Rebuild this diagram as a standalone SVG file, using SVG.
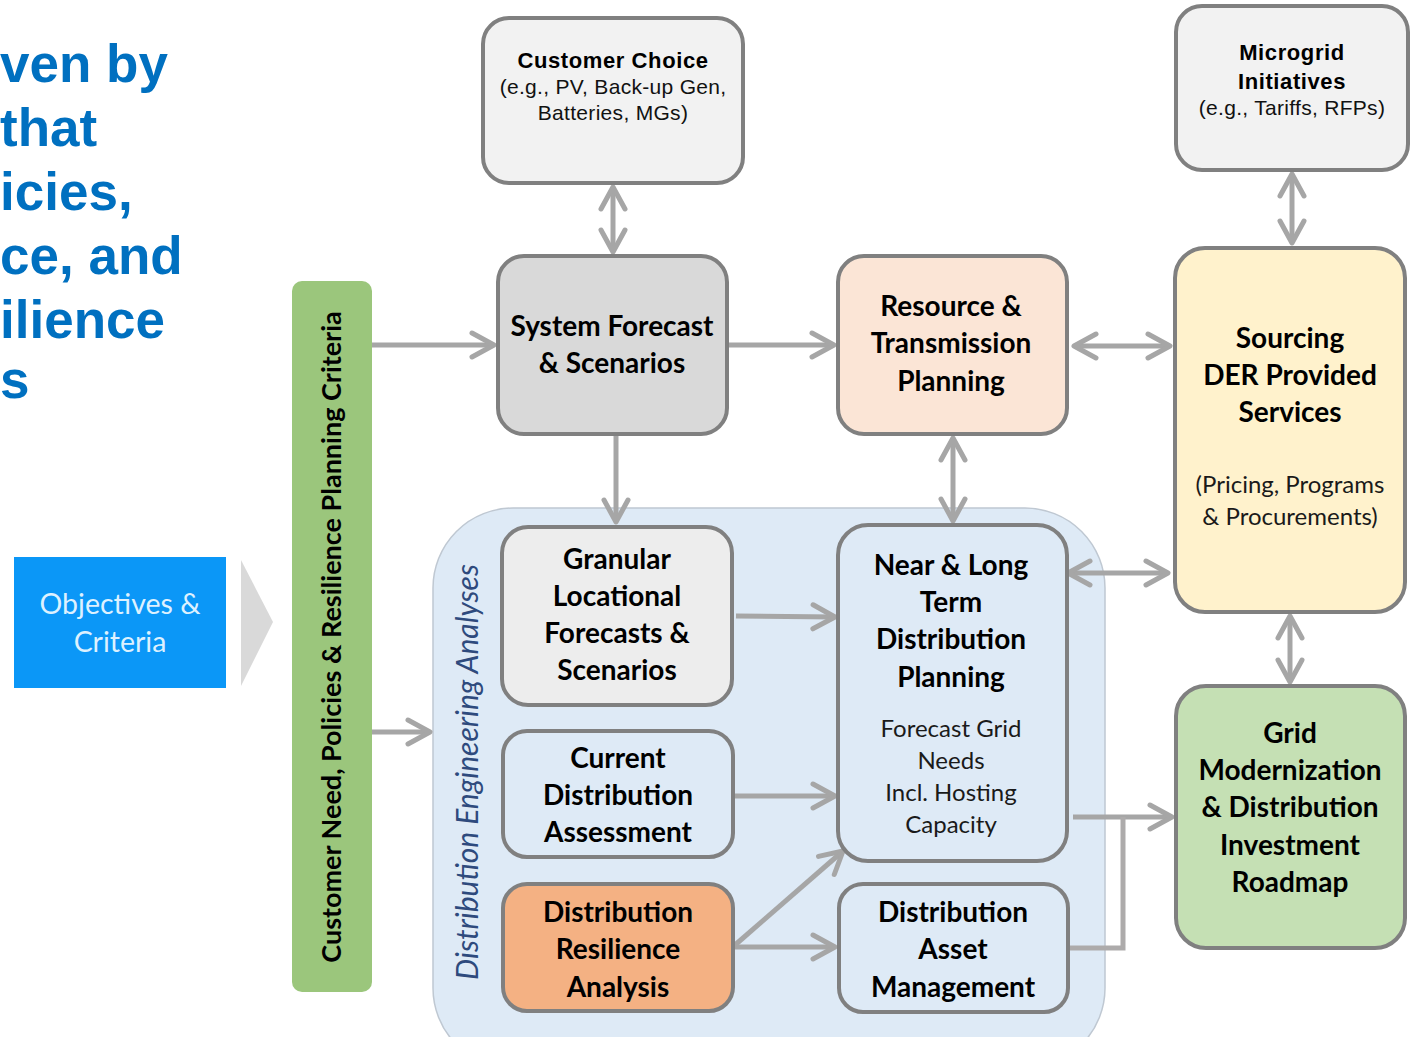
<svg xmlns="http://www.w3.org/2000/svg" width="1412" height="1037" viewBox="0 0 1412 1037">
  <style>
    .head { font-family: "Liberation Sans", Arial, sans-serif; font-weight: bold; font-size: 53px; fill: #0070C0; }
    .box { stroke: #808080; stroke-width: 4; }
    .cb { font-family: Lato, "Open Sans", sans-serif; font-weight: bold; font-size: 28px; fill: #000; text-anchor: middle; }
    .cn { font-family: Lato, "Open Sans", sans-serif; font-size: 24px; fill: #1a1a1a; text-anchor: middle; }
    .ab { font-family: "Liberation Sans", Arial, sans-serif; font-weight: bold; font-size: 22px; letter-spacing: 0.6px; fill: #000; text-anchor: middle; }
    .an { font-family: "Liberation Sans", Arial, sans-serif; font-size: 21px; letter-spacing: 0.3px; fill: #111; text-anchor: middle; }
    .bar-label { font-family: Lato, "Open Sans", sans-serif; font-weight: bold; font-size: 27px; fill: #000; text-anchor: middle; }
    .conn { stroke: #A6A6A6; stroke-width: 5; fill: none; }
  </style>
  <defs>
    <marker id="chev" markerUnits="userSpaceOnUse" viewBox="-30 -20 40 40" markerWidth="40" markerHeight="40" refX="0" refY="0" orient="auto-start-reverse" overflow="visible">
      <path d="M-22,-12 L0,0 L-22,12" fill="none" stroke="#A6A6A6" stroke-width="5" stroke-linecap="round" stroke-linejoin="round"/>
    </marker>
  </defs>

  <rect width="1412" height="1037" fill="#FFFFFF"/>

  <!-- heading, running off the left edge -->
  <g id="heading">
    <text class="head" x="0" y="82">ven by</text>
    <text class="head" x="0" y="146">that</text>
    <text class="head" x="0" y="210">icies,</text>
    <text class="head" x="0" y="274">ce, and</text>
    <text class="head" x="0" y="338">ilience</text>
    <text class="head" x="0" y="398">s</text>
  </g>

  <!-- objectives tab with chevron -->
  <g id="objectives">
    <rect x="14" y="557" width="212" height="131" fill="#0B97F7"/>
    <text x="120" y="614" font-family="Lato, 'Open Sans', sans-serif" font-size="28.5" fill="#DDF1FF" text-anchor="middle">Objectives &amp;</text>
    <text x="120" y="652" font-family="Lato, 'Open Sans', sans-serif" font-size="28.5" fill="#DDF1FF" text-anchor="middle">Criteria</text>
    <polygon points="241,560 273,622 241,686" fill="#D9D9D9"/>
  </g>

  <!-- criteria bar -->
  <g id="criteria">
    <rect x="292" y="281" width="80" height="711" rx="10" fill="#9BC67C"/>
    <text transform="translate(341,637) rotate(-90)" class="bar-label">Customer Need, Policies &amp; Resilience Planning Criteria</text>
  </g>

  <!-- engineering analyses container -->
  <g id="analyses">
    <rect x="433" y="508" width="672" height="560" rx="80" fill="#DEEAF6" stroke="#BFC8D2" stroke-width="1.5"/>
    <text transform="translate(478,772) rotate(-90)" font-family="Lato, 'Open Sans', sans-serif" font-style="italic" font-size="30" fill="#2E4A7D" text-anchor="middle">Distribution Engineering Analyses</text>
  </g>

  <!-- connectors -->
  <g id="connectors">
    <line class="conn" x1="372" y1="345" x2="494" y2="345" marker-end="url(#chev)"/>
    <line class="conn" x1="372" y1="732" x2="430" y2="732" marker-end="url(#chev)"/>
    <line class="conn" x1="613" y1="187" x2="613" y2="252" marker-start="url(#chev)" marker-end="url(#chev)"/>
    <line class="conn" x1="727" y1="345" x2="834" y2="345" marker-end="url(#chev)"/>
    <line class="conn" x1="1074" y1="346" x2="1170" y2="346" marker-start="url(#chev)" marker-end="url(#chev)"/>
    <line class="conn" x1="1292" y1="174" x2="1292" y2="243" marker-start="url(#chev)" marker-end="url(#chev)"/>
    <line class="conn" x1="616" y1="434" x2="616" y2="522" marker-end="url(#chev)"/>
    <line class="conn" x1="953" y1="438" x2="953" y2="521" marker-start="url(#chev)" marker-end="url(#chev)"/>
    <line class="conn" x1="1068" y1="573" x2="1168" y2="573" marker-start="url(#chev)" marker-end="url(#chev)"/>
    <line class="conn" x1="1290" y1="616" x2="1290" y2="682" marker-start="url(#chev)" marker-end="url(#chev)"/>
    <line class="conn" x1="736" y1="616" x2="835" y2="617" marker-end="url(#chev)"/>
    <line class="conn" x1="735" y1="796" x2="835" y2="796" marker-end="url(#chev)"/>
    <line class="conn" x1="735" y1="945" x2="843" y2="851" marker-end="url(#chev)"/>
    <line class="conn" x1="735" y1="947" x2="835" y2="947" marker-end="url(#chev)"/>
    <line class="conn" x1="1073" y1="817" x2="1172" y2="817" marker-end="url(#chev)"/>
    <polyline points="1068,948 1123,948 1123,817" fill="none" stroke="#ADABAB" stroke-width="5"/>
  </g>

  <!-- nodes -->
  <g id="customer-choice">
    <rect class="box" x="483" y="18" width="260" height="165" rx="26" fill="#F2F2F2"/>
    <text class="ab" x="613" y="68">Customer Choice</text>
    <text class="an" x="613" y="94">(e.g., PV, Back-up Gen,</text>
    <text class="an" x="613" y="120">Batteries, MGs)</text>
  </g>

  <g id="system-forecast">
    <rect class="box" x="498" y="256" width="229" height="178" rx="26" fill="#D9D9D9"/>
    <text class="cb" x="612" y="336">System Forecast</text>
    <text class="cb" x="612" y="373">&amp; Scenarios</text>
  </g>

  <g id="resource-transmission">
    <rect class="box" x="838" y="256" width="229" height="178" rx="26" fill="#FBE5D6"/>
    <text class="cb" x="951" y="316">Resource &amp;</text>
    <text class="cb" x="951" y="353">Transmission</text>
    <text class="cb" x="951" y="391">Planning</text>
  </g>

  <g id="microgrid">
    <rect class="box" x="1176" y="6" width="232" height="164" rx="26" fill="#F2F2F2"/>
    <text class="ab" x="1292" y="60">Microgrid</text>
    <text class="ab" x="1292" y="89">Initiatives</text>
    <text class="an" x="1292" y="115">(e.g., Tariffs, RFPs)</text>
  </g>

  <g id="sourcing">
    <rect class="box" x="1175" y="248" width="230" height="364" rx="30" fill="#FFF2CC"/>
    <text class="cb" x="1290" y="348">Sourcing</text>
    <text class="cb" x="1290" y="385">DER Provided</text>
    <text class="cb" x="1290" y="422">Services</text>
    <text class="cn" x="1290" y="493">(Pricing, Programs</text>
    <text class="cn" x="1290" y="525">&amp; Procurements)</text>
  </g>

  <g id="grid-modernization">
    <rect class="box" x="1176" y="686" width="229" height="262" rx="30" fill="#C5E0B4"/>
    <text class="cb" x="1290" y="743">Grid</text>
    <text class="cb" x="1290" y="780">Modernization</text>
    <text class="cb" x="1290" y="817">&amp; Distribution</text>
    <text class="cb" x="1290" y="855">Investment</text>
    <text class="cb" x="1290" y="892">Roadmap</text>
  </g>

  <g id="granular-forecasts">
    <rect class="box" x="502" y="527" width="230" height="178" rx="26" fill="#EDEDED"/>
    <text class="cb" x="617" y="569">Granular</text>
    <text class="cb" x="617" y="606">Locational</text>
    <text class="cb" x="617" y="643">Forecasts &amp;</text>
    <text class="cb" x="617" y="680">Scenarios</text>
  </g>

  <g id="current-assessment">
    <rect class="box" x="503" y="731" width="230" height="126" rx="24" fill="#DEEAF6"/>
    <text class="cb" x="618" y="768">Current</text>
    <text class="cb" x="618" y="805">Distribution</text>
    <text class="cb" x="618" y="842">Assessment</text>
  </g>

  <g id="resilience-analysis">
    <rect class="box" x="503" y="884" width="230" height="127" rx="24" fill="#F4B183"/>
    <text class="cb" x="618" y="922">Distribution</text>
    <text class="cb" x="618" y="959">Resilience</text>
    <text class="cb" x="618" y="997">Analysis</text>
  </g>

  <g id="distribution-planning">
    <rect class="box" x="838" y="525" width="229" height="336" rx="30" fill="#DEEAF6"/>
    <text class="cb" x="951" y="575">Near &amp; Long</text>
    <text class="cb" x="951" y="612">Term</text>
    <text class="cb" x="951" y="649">Distribution</text>
    <text class="cb" x="951" y="687">Planning</text>
    <text class="cn" x="951" y="737">Forecast Grid</text>
    <text class="cn" x="951" y="769">Needs</text>
    <text class="cn" x="951" y="801">Incl. Hosting</text>
    <text class="cn" x="951" y="833">Capacity</text>
  </g>

  <g id="asset-management">
    <rect class="box" x="839" y="884" width="229" height="128" rx="24" fill="#DEEAF6"/>
    <text class="cb" x="953" y="922">Distribution</text>
    <text class="cb" x="953" y="959">Asset</text>
    <text class="cb" x="953" y="997">Management</text>
  </g>
</svg>
